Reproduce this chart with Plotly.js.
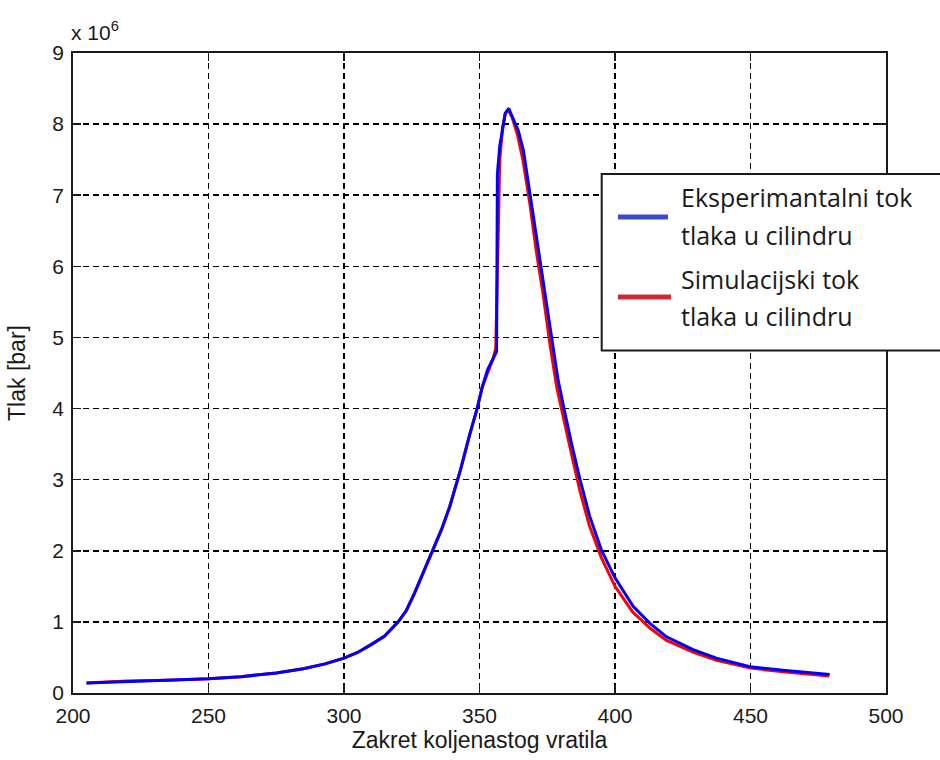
<!DOCTYPE html>
<html>
<head>
<meta charset="utf-8">
<script src="https://cdn.plot.ly/plotly-3.0.1.min.js"></script>
<style>html,body{margin:0;padding:0;background:#fff;}#chart{width:940px;height:760px;}</style>
</head>
<body>
<div id="chart"></div>
<script>
// Crank angle [deg] and cylinder pressure (in units of 10^6)
var expAngle = [205, 220, 235, 250, 262, 275, 285, 293, 300, 305, 310, 315, 320, 323, 326, 330, 333, 336, 339, 343, 346.5, 349, 351, 353, 355, 356.3, 356.6, 357.5, 358.2, 359.5, 360.8, 362, 364.3, 366.2, 368.6, 371.1, 373.5, 376.3, 379, 381.3, 384, 387.1, 390.7, 395, 400, 406.7, 412.9, 419, 428.8, 437.4, 449.8, 462, 479.2];
var expPressure = [0.14, 0.16, 0.18, 0.2, 0.23, 0.28, 0.34, 0.41, 0.49, 0.57, 0.68, 0.8, 1.0, 1.16, 1.4, 1.75, 2.03, 2.3, 2.62, 3.14, 3.65, 3.98, 4.3, 4.55, 4.7, 4.8, 7.3, 7.7, 7.85, 8.15, 8.22, 8.12, 7.91, 7.63, 7.02, 6.37, 5.8, 5.05, 4.4, 3.98, 3.5, 3.0, 2.48, 2.01, 1.62, 1.22, 0.98, 0.79, 0.61, 0.49, 0.37, 0.32, 0.26];

var simAngle = [205, 220, 235, 250, 262, 275, 285, 293, 300, 305, 310, 315, 320, 323, 326, 330, 333, 336, 339, 343, 346.5, 349, 351, 353, 355, 356, 356.8, 357.5, 358.5, 359.5, 360.6, 362, 364, 366, 368.5, 371, 373.5, 376, 378.5, 381, 384, 387, 390.5, 395, 400, 406.5, 413, 419, 429, 437.5, 450, 462, 479];
var simPressure = [0.14, 0.17, 0.18, 0.2, 0.23, 0.28, 0.34, 0.41, 0.49, 0.57, 0.68, 0.8, 1.0, 1.16, 1.4, 1.75, 2.03, 2.3, 2.62, 3.14, 3.65, 3.98, 4.3, 4.5, 4.7, 4.85, 6.3, 7.5, 7.95, 8.15, 8.2, 8.1, 7.85, 7.5, 6.9, 6.2, 5.6, 4.9, 4.3, 3.85, 3.35, 2.85, 2.36, 1.9, 1.5, 1.14, 0.91, 0.74, 0.57, 0.46, 0.35, 0.3, 0.24];

var legendLabels = [["Eksperimantalni tok", "tlaka u cilindru"], ["Simulacijski tok", "tlaka u cilindru"]];
var legendColors = ["#3f48cc", "#cc2b36"];
var xTitle = "Zakret koljenastog vratila";
var yTitle = "Tlak [bar]";
var xTicks = [200, 250, 300, 350, 400, 450, 500];
var yTicks = [0, 1, 2, 3, 4, 5, 6, 7, 8, 9];

var W = 940, H = 760, ML = 73, MR = 54, MT = 53, MB = 67;
var PW = W - ML - MR, PH = H - MT - MB;
function px(x) { return (x - ML) / PW; }
function py(y) { return (H - MB - y) / PH; }

var traces = [
  {x: simAngle, y: simPressure, mode: 'lines', line: {color: '#ff0000', width: 3}, showlegend: false, hoverinfo: 'skip'},
  {x: expAngle, y: expPressure, mode: 'lines', line: {color: '#0000ff', width: 3}, showlegend: false, hoverinfo: 'skip'}
];

var baseFont = 'Liberation Sans, Arial, sans-serif';
var axisCommon = {
  showline: true, linecolor: '#1a1a1a', linewidth: 1.8, mirror: 'ticks',
  ticks: 'inside', ticklen: 8, tickwidth: 1.5, tickcolor: '#1a1a1a',
  showgrid: true, gridcolor: '#000000', gridwidth: 1.5, griddash: '6px,4px',
  zeroline: false, ticklabelstandoff: 3,
  tickfont: {family: baseFont, size: 21, color: '#1a1a1a'}
};

var shapes = [
  {type: 'rect', xref: 'paper', yref: 'paper', x0: px(601.7), x1: px(948), y0: py(350.5), y1: py(174),
   line: {color: '#1a1a1a', width: 2}, fillcolor: '#ffffff', layer: 'above'},
  {type: 'line', xref: 'paper', yref: 'paper', x0: px(618), x1: px(668), y0: py(217), y1: py(217),
   line: {color: legendColors[0], width: 5}, layer: 'above'},
  {type: 'line', xref: 'paper', yref: 'paper', x0: px(618), x1: px(671), y0: py(297), y1: py(297),
   line: {color: legendColors[1], width: 5}, layer: 'above'}
];

var legendFont = {family: 'Open Sans, Lato, sans-serif', size: 25, color: '#1a1a1a'};
var legendY = [[197, 235], [279, 316]];
var annotations = [];
for (var i = 0; i < legendLabels.length; i++) {
  for (var j = 0; j < legendLabels[i].length; j++) {
    annotations.push({xref: 'paper', yref: 'paper', x: px(679), y: py(legendY[i][j]),
      xanchor: 'left', yanchor: 'middle', showarrow: false, text: legendLabels[i][j], font: legendFont});
  }
}
annotations.push({xref: 'paper', yref: 'paper', x: px(69), y: py(31), xanchor: 'left', yanchor: 'middle',
  showarrow: false, text: 'x 10<sup>6</sup>', font: {family: baseFont, size: 21, color: '#1a1a1a'}});

var layout = {
  width: W, height: H,
  margin: {l: ML, r: MR, t: MT, b: MB, pad: 0},
  paper_bgcolor: '#ffffff', plot_bgcolor: '#ffffff',
  showlegend: false,
  xaxis: Object.assign({}, axisCommon, {
    range: [200, 500], tickvals: xTicks, ticktext: xTicks.map(String),
    title: {text: xTitle, standoff: 4, font: {family: baseFont, size: 23, color: '#1a1a1a'}}
  }),
  yaxis: Object.assign({}, axisCommon, {
    range: [0, 9], tickvals: yTicks, ticktext: yTicks.map(String),
    title: {text: yTitle, standoff: 20, font: {family: baseFont, size: 23, color: '#1a1a1a'}}
  }),
  shapes: shapes,
  annotations: annotations
};

Plotly.newPlot('chart', traces, layout, {staticPlot: true, displayModeBar: false});
</script>
</body>
</html>
